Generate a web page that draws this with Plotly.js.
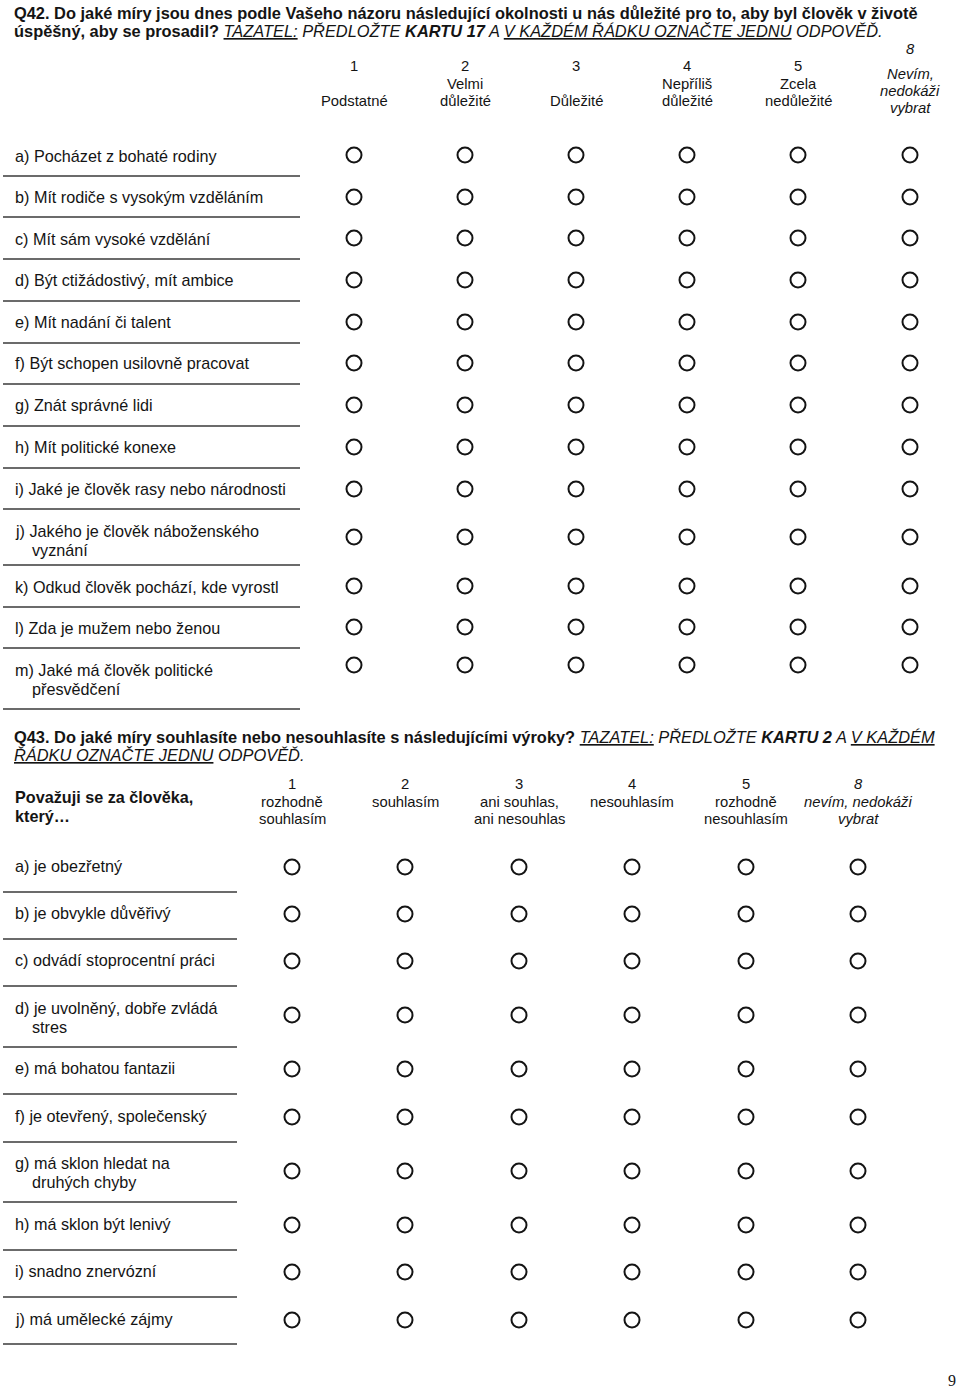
<!DOCTYPE html>
<html>
<head>
<meta charset="utf-8">
<script src="https://cdn.plot.ly/plotly-3.0.1.min.js"></script>
<style>html,body{margin:0;padding:0;background:#fff;}#chart{width:960px;height:1393px;}</style>
</head>
<body>
<div id="chart"></div>
<script>
// ---------- DATA ----------
const q42Title = [
  "<b>Q42. Do jaké míry jsou dnes podle Vašeho názoru následující okolnosti u nás důležité pro to, aby byl člověk v životě</b>",
  "<b>úspěšný, aby se prosadil?</b> <i><u>TAZATEL:</u> PŘEDLOŽTE <b>KARTU 17</b> A <u>V KAŽDÉM ŘÁDKU OZNAČTE JEDNU</u> ODPOVĚĎ.</i>"
];
const q42Codes = ["1", "2", "3", "4", "5", "8"];
const q42ColLabels = [
  ["Podstatné"],
  ["Velmi", "důležité"],
  ["Důležité"],
  ["Nepříliš", "důležité"],
  ["Zcela", "nedůležité"],
  ["Nevím,", "nedokáži", "vybrat"]
];
const q42Items = [
  ["a) Pocházet z bohaté rodiny"],
  ["b) Mít rodiče s vysokým vzděláním"],
  ["c) Mít sám vysoké vzdělání"],
  ["d) Být ctižádostivý, mít ambice"],
  ["e) Mít nadání či talent"],
  ["f) Být schopen usilovně pracovat"],
  ["g) Znát správné lidi"],
  ["h) Mít politické konexe"],
  ["i) Jaké je člověk rasy nebo národnosti"],
  ["j) Jakého je člověk náboženského", "vyznání"],
  ["k) Odkud člověk pochází, kde vyrostl"],
  ["l) Zda je mužem nebo ženou"],
  ["m) Jaké má člověk politické", "přesvědčení"]
];

const q43Title = [
  "<b>Q43. Do jaké míry souhlasíte nebo nesouhlasíte s následujícími výroky?</b> <i><u>TAZATEL:</u> PŘEDLOŽTE <b>KARTU 2</b> A <u>V KAŽDÉM</u></i>",
  "<i><u>ŘÁDKU OZNAČTE JEDNU</u> ODPOVĚĎ.</i>"
];
const q43Stem = ["Považuji se za člověka,", "který…"];
const q43Codes = ["1", "2", "3", "4", "5", "8"];
const q43ColLabels = [
  ["rozhodně", "souhlasím"],
  ["souhlasím"],
  ["ani souhlas,", "ani nesouhlas"],
  ["nesouhlasím"],
  ["rozhodně", "nesouhlasím"],
  ["nevím, nedokáži", "vybrat"]
];
const q43Items = [
  ["a) je obezřetný"],
  ["b) je obvykle důvěřivý"],
  ["c) odvádí stoprocentní práci"],
  ["d) je uvolněný, dobře zvládá", "stres"],
  ["e) má bohatou fantazii"],
  ["f) je otevřený, společenský"],
  ["g) má sklon hledat na", "druhých chyby"],
  ["h) má sklon být lenivý"],
  ["i) snadno znervózní"],
  ["j) má umělecké zájmy"]
];
const pageNumber = "9";

// ---------- LAYOUT (positions / styles) ----------
const FONT = "Liberation Sans, Arial, sans-serif";
const INK = "#141414";
const SZ = { title: 16.4, label: 16.2, head: 14.8, stem: 16.2 };
const L = {
  q42: {
    titleY: [13, 31],
    colX: [354, 465, 576, 687, 798, 910],
    codeY: 66, codeY8: 49,
    labelBottomY: 101, lineStep: 17,
    rowY: [155, 197, 238, 280, 322, 363, 405, 447, 489, 537, 586, 627, 665],
    textY: [[156], [197], [239], [280], [322], [363], [405], [447], [489], [531, 550], [587], [628], [670, 689]],
    ruleY: [176, 217, 259, 301, 343, 384, 426, 468, 509, 565, 607, 648, 709],
    ruleX: [3, 300]
  },
  q43: {
    titleY: [737, 755],
    stemY: [797, 816],
    colX: [292, 405, 519, 632, 746, 858],
    codeY: 784, labelTopY: 802, lineStep: 17,
    rowY: [867, 914, 961, 1015, 1069, 1117, 1171, 1225, 1272, 1320],
    textY: [[866], [913], [960], [1008, 1027], [1068], [1116], [1163, 1182], [1224], [1271], [1319]],
    ruleY: [892, 939, 986, 1047, 1094, 1142, 1202, 1250, 1297, 1344],
    ruleX: [3, 237]
  },
  textX: 13, indentX: 30
};

const annotations = [];
const shapes = [];
function txt(x, y, text, opts) {
  opts = opts || {};
  annotations.push({
    x: x, y: y, xref: "x", yref: "y", text: text, showarrow: false,
    xanchor: opts.xanchor || "left", yanchor: "middle",
    font: { family: opts.family || FONT, size: opts.size || SZ.label, color: opts.color || INK }
  });
}

// Titles
L.q42.titleY.forEach((y, i) => txt(L.textX - 1, y, q42Title[i], { size: SZ.title }));
L.q43.titleY.forEach((y, i) => txt(L.textX - 1, y, q43Title[i], { size: SZ.title }));

// Q42 column headers
q42Codes.forEach((c, j) => {
  const x = L.q42.colX[j];
  const isDK = c === "8";
  if (isDK) {
    txt(x, L.q42.codeY8, "<i>" + c + "</i>", { xanchor: "center", size: SZ.head });
    q42ColLabels[j].forEach((s, k) => txt(x, L.q42.codeY8 + 25 + k * L.q42.lineStep, "<i>" + s + "</i>", { xanchor: "center", size: SZ.head }));
  } else {
    txt(x, L.q42.codeY, c, { xanchor: "center", size: SZ.head });
    const n = q42ColLabels[j].length;
    q42ColLabels[j].forEach((s, k) => txt(x, L.q42.labelBottomY - (n - 1 - k) * L.q42.lineStep, s, { xanchor: "center", size: SZ.head }));
  }
});

// Q43 column headers
q43Codes.forEach((c, j) => {
  const x = L.q43.colX[j];
  const it = c === "8";
  const w = s => it ? "<i>" + s + "</i>" : s;
  txt(x, L.q43.codeY, w(c), { xanchor: "center", size: SZ.head });
  q43ColLabels[j].forEach((s, k) => txt(x, L.q43.labelTopY + k * L.q43.lineStep, w(s), { xanchor: "center", size: SZ.head }));
});
L.q43.stemY.forEach((y, i) => txt(L.textX, y, "<b>" + q43Stem[i] + "</b>", { size: SZ.stem }));

// Row labels and rules
function rows(items, cfg) {
  items.forEach((lines, i) => {
    lines.forEach((s, k) => txt(k === 0 ? L.textX : L.indentX, cfg.textY[i][k], s, { size: SZ.label }));
  });
  cfg.ruleY.forEach(y => shapes.push({
    type: "line", xref: "x", yref: "y", x0: cfg.ruleX[0], x1: cfg.ruleX[1], y0: y, y1: y,
    line: { color: "#3a3a3a", width: 1.4 }
  }));
}
rows(q42Items, L.q42);
rows(q43Items, L.q43);

// Answer circles
function grid(items, codes, cfg, name) {
  const xs = [], ys = [], tx = [];
  items.forEach((lines, i) => codes.forEach((c, j) => {
    xs.push(cfg.colX[j]); ys.push(cfg.rowY[i]); tx.push(lines.join(" ") + " – " + c);
  }));
  return {
    type: "scatter", mode: "markers", name: name, x: xs, y: ys, text: tx, hoverinfo: "text",
    marker: { symbol: "circle-open", size: 15, color: INK, line: { width: 2, color: INK } }
  };
}
const traces = [grid(q42Items, q42Codes, L.q42, "Q42"), grid(q43Items, q43Codes, L.q43, "Q43")];

// Page number
txt(952, 1380, pageNumber, { xanchor: "center", size: 16, family: "Liberation Serif, Times New Roman, serif" });

const layout = {
  width: 960, height: 1393,
  margin: { l: 0, r: 0, t: 0, b: 0, pad: 0 },
  paper_bgcolor: "#ffffff", plot_bgcolor: "#ffffff",
  showlegend: false,
  xaxis: { range: [0, 960], visible: false, fixedrange: true },
  yaxis: { range: [1393, 0], visible: false, fixedrange: true },
  annotations: annotations,
  shapes: shapes
};
Plotly.newPlot("chart", traces, layout, { displayModeBar: false, staticPlot: true });
</script>
</body>
</html>
